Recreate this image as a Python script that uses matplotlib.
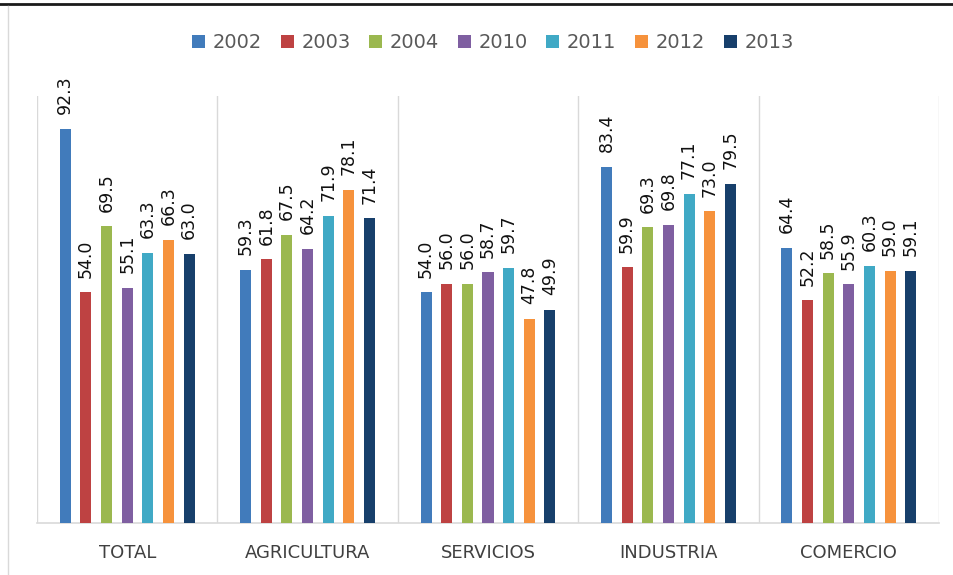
import matplotlib
matplotlib.use("Agg")
import matplotlib.pyplot as plt
from matplotlib.lines import Line2D
import numpy as np

categories = ["TOTAL", "AGRICULTURA", "SERVICIOS", "INDUSTRIA", "COMERCIO"]
years = ["2002", "2003", "2004", "2010", "2011", "2012", "2013"]
v2002 = [92.3, 59.3, 54.0, 83.4, 64.4]
v2003 = [54.0, 61.8, 56.0, 59.9, 52.2]
v2004 = [69.5, 67.5, 56.0, 69.3, 58.5]
v2010 = [55.1, 64.2, 58.7, 69.8, 55.9]
v2011 = [63.3, 71.9, 59.7, 77.1, 60.3]
v2012 = [66.3, 78.1, 47.8, 73.0, 59.0]
v2013 = [63.0, 71.4, 49.9, 79.5, 59.1]
series = [v2002, v2003, v2004, v2010, v2011, v2012, v2013]
colors = ["#417BBB", "#BE4242", "#9BB84F", "#7F5FA1", "#40A9C5", "#F6923C", "#173F6B"]

fig = plt.figure(figsize=(9.54, 5.75), dpi=100)
ax = fig.add_axes([37/954, 1-523/575, 902/954, (523-96)/575])

x = np.arange(len(categories))
step = 0.1145
width = 0.061
for j, (vals, col, yr) in enumerate(zip(series, colors, years)):
    xs = x + (j - 3) * step
    ax.bar(xs, vals, width=width, color=col, label=yr, zorder=3)
    for xi, v in zip(xs, vals):
        ax.annotate(f"{v:.1f}", (xi, v), xytext=(0, 10.5), textcoords="offset points",
                    rotation=90, ha="center", va="bottom", fontsize=12.5, color="#111111")

ax.set_xlim(-0.5, len(categories) - 0.5)
ax.set_ylim(0, 100)
for b in np.arange(-0.5, len(categories), 1.0):
    ax.axvline(b, color="#D9D9D9", lw=1, zorder=1)
for s in ["top", "right", "left"]:
    ax.spines[s].set_visible(False)
ax.spines["bottom"].set_color("#D9D9D9")
ax.spines["bottom"].set_linewidth(1.2)
ax.set_yticks([])
ax.set_xticks(x)
ax.set_xticklabels(categories, fontsize=13, color="#404040")
ax.tick_params(axis="x", length=0, pad=15)

fig.legend(loc="center", bbox_to_anchor=(493/954, 1-43/575), ncol=7, frameon=False,
           fontsize=14, handlelength=0.67, handleheight=0.67, handletextpad=0.4,
           columnspacing=0.95, labelcolor="#595959")

fig.add_artist(Line2D([0, 1], [1-3.5/575, 1-3.5/575], transform=fig.transFigure,
                      color="#1a1a1a", lw=2))
fig.add_artist(Line2D([8.5/954, 8.5/954], [0, 1-6/575], transform=fig.transFigure,
                      color="#D9D9D9", lw=1))

fig.savefig("out.png", dpi=100, facecolor="white")
